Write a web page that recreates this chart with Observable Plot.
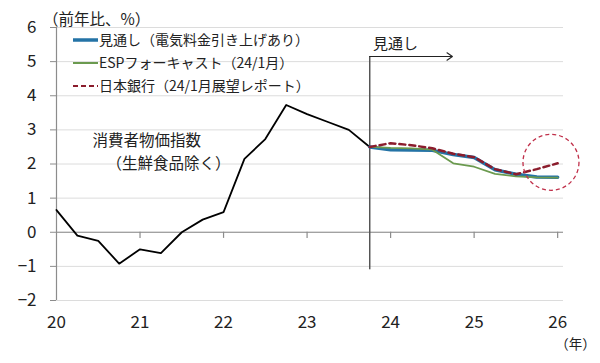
<!DOCTYPE html>
<html><head><meta charset="utf-8">
<script src="https://cdn.jsdelivr.net/npm/d3@7"></script>
<script src="https://cdn.jsdelivr.net/npm/@observablehq/plot@0.6"></script>
<style>
body{margin:0;background:#fff;font-family:"Noto Sans CJK JP",sans-serif;}
#wrap{position:relative;width:600px;height:363px;overflow:hidden;}
#legend{position:absolute;left:73px;top:28px;font-size:14px;line-height:23px;color:#222;}
#legend .row{display:flex;align-items:center;height:23px;white-space:nowrap;}
#legend svg{margin-right:1px;}
#unit{position:absolute;left:43px;top:7px;font-size:15.5px;line-height:22px;color:#222;white-space:nowrap;}
</style></head><body><div id="wrap"></div>
<script>
// ---- data ----
const actualPeriods = ["2020Q1","2020Q2","2020Q3","2020Q4","2021Q1","2021Q2","2021Q3","2021Q4",
  "2022Q1","2022Q2","2022Q3","2022Q4","2023Q1","2023Q2","2023Q3","2023Q4"];
const cpiActual = [0.65, -0.1, -0.25, -0.92, -0.5, -0.61, 0.0, 0.37, 0.59, 2.15, 2.73, 3.73, 3.46, 3.23, 3.0, 2.5];
const forecastPeriods = ["2023Q4","2024Q1","2024Q2","2024Q3","2024Q4","2025Q1","2025Q2","2025Q3","2025Q4","2026Q1"];
const outlook     = [2.5, 2.42, 2.41, 2.4, 2.28, 2.19, 1.83, 1.7, 1.62, 1.61];
const espForecast = [2.5, 2.47, 2.46, 2.42, 2.02, 1.92, 1.71, 1.64, 1.61, 1.6];
const bojOutlook  = [2.5, 2.61, 2.55, 2.46, 2.3, 2.2, 1.85, 1.7, 1.85, 2.02];
const seriesNames = ["見通し（電気料金引き上げあり）", "ESPフォーキャスト（24/1月）", "日本銀行（24/1月展望レポート）"];
const actualName = ["消費者物価指数", "（生鮮食品除く）"];
const yearTicks = [2020, 2021, 2022, 2023, 2024, 2025, 2026];
const yTicks = [-2, -1, 0, 1, 2, 3, 4, 5, 6];
const unitLabel = "（前年比、%）";
const xUnitLabel = "（年）";
const outlookLabel = "見通し";
const outlookStart = "2023Q4";

// ---- helpers ----
const toX = p => +p.slice(0, 4) + (+p.slice(5) - 1) / 4;
const actualData = actualPeriods.map((p, i) => ({x: toX(p), y: cpiActual[i]}));
const mk = arr => forecastPeriods.map((p, i) => ({x: toX(p), y: arr[i]}));
const colors = ["#2473a6", "#6b9a4f", "#8b1c2c"];
const widths = [3.5, 1.8, 2.5];
const dashes = [null, null, "6,4"];
const xs = toX(outlookStart);
const font = '"Noto Sans CJK JP", sans-serif';

const chart = Plot.plot({
  width: 600, height: 363,
  marginLeft: 56, marginRight: 37, marginTop: 27, marginBottom: 63,
  x: {domain: [2020, 2026.07]},
  y: {domain: [-2, 6]},
  style: {fontFamily: font, background: "white", overflow: "visible", color: "#222"},
  marks: [
    Plot.gridY(yTicks, {stroke: "#dcdcdc", strokeOpacity: 1}),
    Plot.ruleY([0], {stroke: "#8c8c8c", strokeWidth: 1.2}),
    Plot.ruleX(yearTicks.slice(1), {x: d => d, y1: 0, y2: -0.18, stroke: "#8c8c8c", strokeWidth: 1.2}),
    Plot.ruleX([2020], {y1: -2, y2: 6, stroke: "#8c8c8c", strokeWidth: 1.2}),
    Plot.axisY(yTicks, {tickSize: 6, tickPadding: 14, fontSize: 17, stroke: "#8c8c8c", label: null}),
    Plot.axisX(yearTicks, {tickSize: 0, tickPadding: 15, fontSize: 17, label: null, tickFormat: d => String(d).slice(2)}),
    // outlook marker
    Plot.ruleX([xs], {y1: -1.1, y2: 5.15, stroke: "#555", strokeWidth: 1.5}),
    Plot.arrow([0], {x1: xs, y1: 5.15, x2: 2024.74, y2: 5.15, stroke: "#222", strokeWidth: 1.1, headLength: 9, headAngle: 70}),
    Plot.text([outlookLabel], {x: xs + 0.04, y: 5.5, textAnchor: "start", fontSize: 15, fill: "#222"}),
    // series
    Plot.line(actualData, {x: "x", y: "y", stroke: "#000", strokeWidth: 1.8}),
    Plot.line(mk(outlook), {x: "x", y: "y", stroke: colors[0], strokeWidth: widths[0]}),
    Plot.line(mk(espForecast), {x: "x", y: "y", stroke: colors[1], strokeWidth: widths[1]}),
    Plot.line(mk(bojOutlook), {x: "x", y: "y", stroke: colors[2], strokeWidth: widths[2], strokeDasharray: dashes[2]}),
    // highlight circle
    Plot.dot([0], {x: 2025.92, y: 2.05, r: 28, stroke: "#c0304a", strokeWidth: 1.3, strokeDasharray: "4,3", fill: "none"}),
    // annotations
    Plot.text([actualName[0]], {x: 2020.43, y: 2.66, textAnchor: "start", fontSize: 15.5, fill: "#222"}),
    Plot.text([actualName[1]], {x: 2020.60, y: 2.0, textAnchor: "start", fontSize: 15.5, fill: "#222"}),
    Plot.text([xUnitLabel], {frameAnchor: "bottom-right", dx: 12, dy: 48, textAnchor: "middle", fontSize: 13.5, fill: "#222"})
  ]
});
const wrap = document.getElementById("wrap");
wrap.appendChild(chart);

// unit label
const unit = document.createElement("div");
unit.id = "unit";
unit.textContent = unitLabel;
wrap.appendChild(unit);

// legend
const legend = document.createElement("div");
legend.id = "legend";
seriesNames.forEach((name, i) => {
  const row = document.createElement("div");
  row.className = "row";
  row.innerHTML = `<svg width="25" height="10"><line x1="0" y1="5" x2="25" y2="5" stroke="${colors[i]}" stroke-width="${widths[i] === 3.5 ? 3.5 : 2}" ${dashes[i] ? `stroke-dasharray="5,3"` : ""}/></svg><span>${name}</span>`;
  legend.appendChild(row);
});
wrap.appendChild(legend);
</script>
</body></html>
